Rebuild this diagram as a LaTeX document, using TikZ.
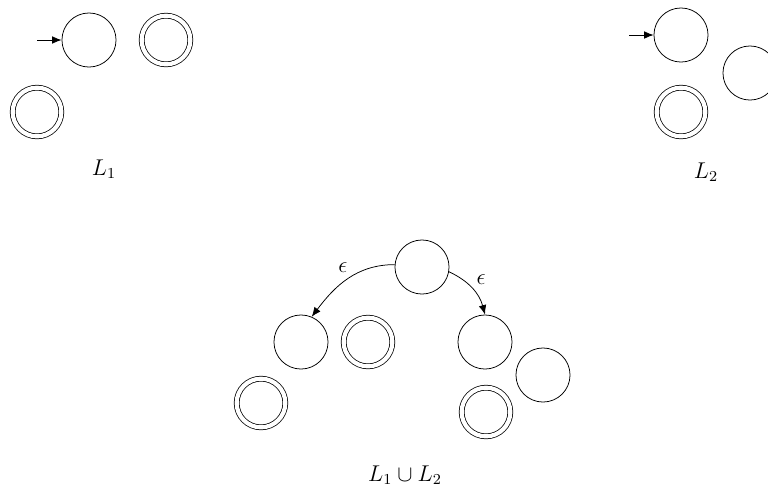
\documentclass[tikz,border=0pt]{standalone}
\usepackage{amsmath, amssymb}
\usepackage{tikz}
\usetikzlibrary{arrows.meta, positioning, calc}

\tikzset{
    st/.style={circle, draw, minimum size=1cm, inner sep=0pt},
    acc/.style={circle, draw, double, double distance=2.2pt, minimum size=0.9cm, inner sep=0pt},
    eps/.style={-{Latex[length=5pt, width=4pt]}},
    lbl/.style={font=\large},
}

\begin{document}
\begin{tikzpicture}[x=0.0185cm, y=-0.0185cm]
    \useasboundingbox (0,0) rectangle (768,492);

    % L1
    \node[st] (a0) at (89, 40) {};
    \node[acc] (a1) at (166, 40) {};
    \node[acc] (a2) at (37, 112) {};
    \coordinate (a0in) at (37, 40);
    \draw[eps] (a0in) -- (a0);
    \node[lbl] (l1) at (104, 169) {$L_1$};

    % L2
    \node[st] (b0) at (681, 35) {};
    \node[st] (b1) at (750, 73) {};
    \node[acc] (b2) at (681, 112) {};
    \coordinate (b0in) at (629, 35);
    \draw[eps] (b0in) -- (b0);
    \node[lbl] (l2) at (706, 172) {$L_2$};

    % Vereinigung
    \node[st] (s) at (422, 267) {};
    \node[st] (p0) at (301, 342) {};
    \node[acc] (p1) at (368, 342) {};
    \node[acc] (p2) at (261, 403) {};
    \node[st] (q0) at (485, 342) {};
    \node[st] (q1) at (543, 375) {};
    \node[acc] (q2) at (486, 412) {};

    \draw[eps] (s.175) to[out=180, in=53] node[lbl, pos=0.45, above left, inner sep=2pt] {$\epsilon$} (p0.67);
    \draw[eps] (s.-10) to[out=-25, in=105] node[lbl, pos=0.5, above right, inner sep=2pt] {$\epsilon$} (q0.north);

    \node[lbl] (l12) at (405, 475) {$L_1 \cup L_2$};
\end{tikzpicture}
\end{document}
